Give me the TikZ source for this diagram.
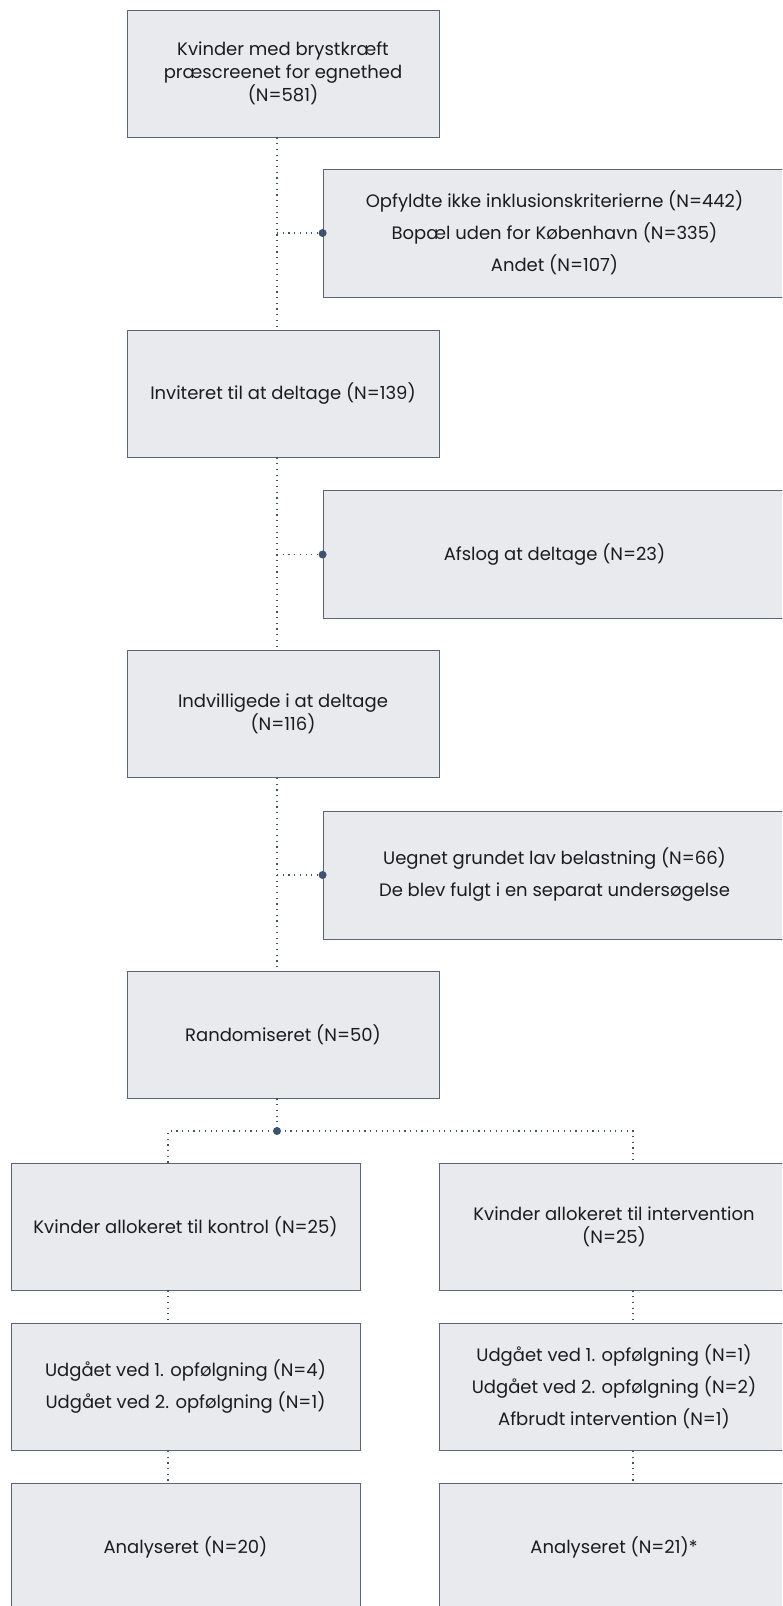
\documentclass[tikz,border=0pt]{standalone}
\usepackage{fontspec}
\setmainfont{Poppins}
\usepackage{xcolor}
\usetikzlibrary{calc}
\definecolor{boxfill}{RGB}{233,234,237}
\definecolor{boxline}{RGB}{88,102,122}
\definecolor{dotcol}{RGB}{62,84,110}
\definecolor{txt}{RGB}{28,28,30}
\begin{document}
\begin{tikzpicture}[
    x=1pt,y=-1pt,
    box/.style={draw=boxline,fill=boxfill,line width=0.8pt,minimum width=312pt,minimum height=127pt,align=center,text=txt,font=\fontsize{18}{23}\selectfont,inner sep=0pt},
    sidebox/.style={box,minimum width=463pt,minimum height=128pt},
    colbox/.style={box,minimum width=349pt},
    dotline/.style={draw=dotcol,line width=1.2pt,dash pattern=on 1.2pt off 4.5pt},
    joint/.style={circle,fill=dotcol,inner sep=0pt,minimum size=8pt},
]
\useasboundingbox (0,0) rectangle (782,1606);
\clip (0,0) rectangle (782,1606);
\coordinate (spine) at (277,0);
\coordinate (lcol) at (168,0);
\coordinate (rcol) at (633,0);
\node[box](B1)at(283,73.5){Kvinder med brystkræft\\præscreenet for egnethed\\(N=581)};
\node[sidebox](S1)at(554.5,233){Opfyldte ikke inklusionskriterierne (N=442)\\[9pt]Bopæl uden for København (N=335)\\[9pt]Andet (N=107)};
\node[box](B2)at(283,393.5){Inviteret til at deltage (N=139)};
\node[sidebox](S2)at(554.5,554.5){Afslog at deltage (N=23)};
\node[box](B3)at(283,714){Indvilligede i at deltage\\(N=116)};
\node[sidebox](S3)at(554.5,875){Uegnet grundet lav belastning (N=66)\\[9pt]De blev fulgt i en separat undersøgelse};
\node[box](B4)at(283,1034.5){Randomiseret (N=50)};
\coordinate (split) at (277,1131);
\node[colbox](L1)at(185.5,1226.5){Kvinder allokeret til kontrol (N=25)};
\node[colbox](R1)at(614,1226.5){Kvinder allokeret til intervention\\(N=25)};
\node[colbox](L2)at(185.5,1387){Udgået ved 1. opfølgning (N=4)\\[9pt]Udgået ved 2. opfølgning (N=1)};
\node[colbox](R2)at(614,1387){Udgået ved 1. opfølgning (N=1)\\[9pt]Udgået ved 2. opfølgning (N=2)\\[9pt]Afbrudt intervention (N=1)};
\node[colbox](L3)at(185.5,1547){Analyseret (N=20)};
\node[colbox](R3)at(614,1547){Analyseret (N=21)*};
\draw[dotline](B1.south -| spine)--(B2.north -| spine);
\draw[dotline](B2.south -| spine)--(B3.north -| spine);
\draw[dotline](B3.south -| spine)--(B4.north -| spine);
\foreach \s in {S1,S2,S3}{
    \draw[dotline](\s.west -| spine)--(\s.west);
    \node[joint]at(\s.west){};
}
\draw[dotline](B4.south -| spine)--(split);
\draw[dotline](L1.north -| lcol)|-(split)-|(R1.north -| rcol);
\node[joint]at(split){};
\draw[dotline](L1.south -| lcol)--(L2.north -| lcol);
\draw[dotline](L2.south -| lcol)--(L3.north -| lcol);
\draw[dotline](R1.south -| rcol)--(R2.north -| rcol);
\draw[dotline](R2.south -| rcol)--(R3.north -| rcol);
\end{tikzpicture}
\end{document}
